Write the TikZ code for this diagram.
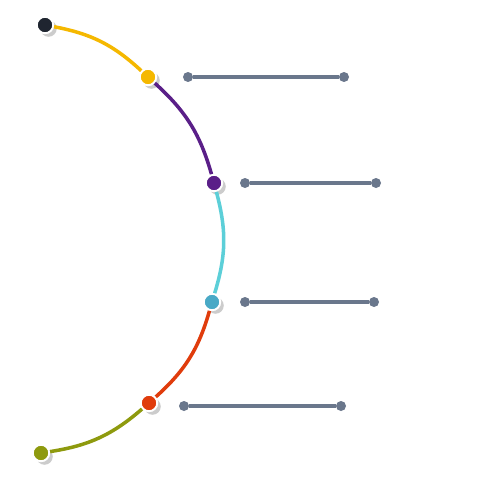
\documentclass[tikz,border=0pt]{standalone}
\usepackage{xcolor}
\usepackage{tikz}
\usetikzlibrary{shadows}
\definecolor{ink}{HTML}{1f2530}
\definecolor{amber}{HTML}{f5b800}
\definecolor{plum}{HTML}{5a1f88}
\definecolor{aqua}{HTML}{5ccfd8}
\definecolor{sky}{HTML}{49a9c6}
\definecolor{rust}{HTML}{e03c0c}
\definecolor{olive}{HTML}{8e9a0e}
\definecolor{slate}{HTML}{6a778c}

\begin{document}
\begin{tikzpicture}[x=0.02cm,y=-0.02cm,
    stop/.style={circle,fill=#1,draw=white,line width=1.1pt,minimum size=0.33cm,inner sep=0pt,
      drop shadow={shadow xshift=2pt,shadow yshift=-2pt,opacity=0.4}},
    tick/.style={circle,fill=slate,minimum size=0.2cm,inner sep=0pt},
    seg/.style={draw=#1,line width=2pt,bend left=16},
    bar/.style={draw=slate,line width=1.9pt}]
    \useasboundingbox[fill=white] (0,0) rectangle (500,500);
    % stops on the arc
    \node[stop=ink]   (s1) at (45,25)   {};
    \node[stop=amber] (s2) at (148,77)  {};
    \node[stop=plum]  (s3) at (214,183) {};
    \node[stop=sky]   (s4) at (212,302) {};
    \node[stop=rust]  (s5) at (149,403) {};
    \node[stop=olive] (s6) at (41,453)  {};
    \draw[seg=amber] (s1) to (s2);
    \draw[seg=plum]  (s2) to (s3);
    \draw[seg=aqua]  (s3) to (s4);
    \draw[seg=rust]  (s4) to (s5);
    \draw[seg=olive] (s5) to (s6);
    % bars
    \node[tick] (a1) at (188,77)  {};
    \node[tick] (b1) at (344,77)  {};
    \node[tick] (a2) at (245,183) {};
    \node[tick] (b2) at (376,183) {};
    \node[tick] (a3) at (245,302) {};
    \node[tick] (b3) at (374,302) {};
    \node[tick] (a4) at (184,406) {};
    \node[tick] (b4) at (341,406) {};
    \draw[bar] (a1) -- (b1);
    \draw[bar] (a2) -- (b2);
    \draw[bar] (a3) -- (b3);
    \draw[bar] (a4) -- (b4);
\end{tikzpicture}
\end{document}
